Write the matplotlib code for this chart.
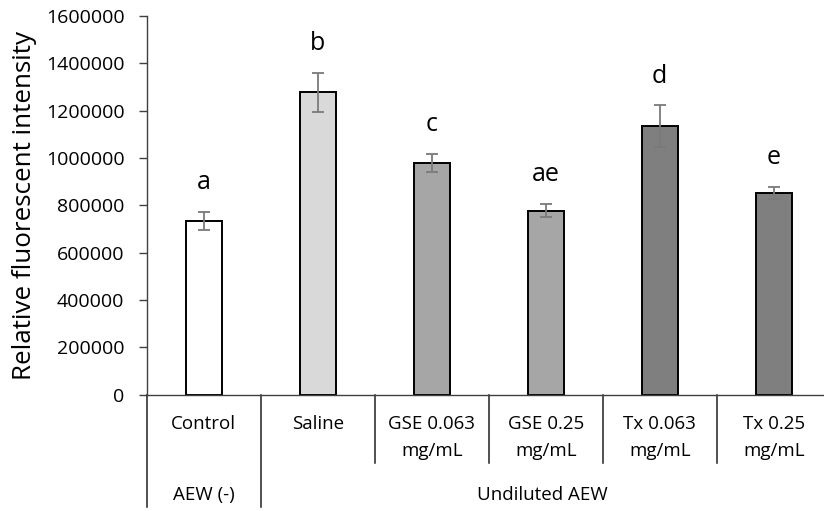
import matplotlib
matplotlib.use("Agg")
import matplotlib.pyplot as plt
from matplotlib.transforms import blended_transform_factory
from matplotlib.ticker import MultipleLocator, FuncFormatter

plt.rcParams['font.family'] = ['Open Sans', 'DejaVu Sans']

categories = ["Control", "Saline", "GSE 0.063\nmg/mL", "GSE 0.25\nmg/mL",
              "Tx 0.063\nmg/mL", "Tx 0.25\nmg/mL"]
values = [735000, 1277000, 980000, 777000, 1135000, 852000]
errors = [38000, 81000, 37000, 28000, 87000, 24000]
letters = ["a", "b", "c", "ae", "d", "e"]
colors = ["#ffffff", "#d9d9d9", "#a6a6a6", "#a6a6a6", "#7f7f7f", "#7f7f7f"]
groups = ["AEW (-)", "Undiluted AEW"]
group_spans = [(0, 0), (1, 5)]
ylabel = "Relative fluorescent intensity"

W, H = 824, 511
fig = plt.figure(figsize=(W / 100, H / 100), dpi=100)
x0, x1 = 146.7, 830.7
ytop, ybot = 16.0, 394.7
ax = fig.add_axes([x0 / W, (H - ybot) / H, (x1 - x0) / W, (ybot - ytop) / H])

xs = list(range(len(categories)))
ax.bar(xs, values, width=0.316, color=colors, edgecolor="black", linewidth=1.4, zorder=2)
ax.errorbar(xs, values, yerr=errors, fmt="none", ecolor="#7a7a7a", elinewidth=1.3,
            capsize=4.5, capthick=1.3, zorder=3)

for x, v, e, l in zip(xs, values, errors, letters):
    ax.annotate(l, xy=(x, v + e), xytext=(0, 16.5), textcoords="offset points",
                ha="center", va="baseline", fontsize=18, color="black")

ax.set_xlim(-0.5, len(categories) - 0.5)
ax.set_ylim(0, 1600000)
ax.yaxis.set_major_locator(MultipleLocator(200000))
ax.yaxis.set_major_formatter(FuncFormatter(lambda v, p: f"{int(v)}"))
ax.tick_params(axis="y", direction="out", length=6, width=1, color="#404040",
               labelsize=14, pad=10, labelcolor="black")
ax.set_xticks([])
for s in ["top", "right"]:
    ax.spines[s].set_visible(False)
ax.spines["left"].set_color("#404040")
ax.spines["bottom"].set_color("#404040")
ax.spines["left"].set_linewidth(1.0)
ax.spines["bottom"].set_linewidth(1.0)

fig.text(25 / W, (H - 205) / H, ylabel, rotation=90, ha="center", va="center", fontsize=18.7)

tr = blended_transform_factory(ax.transData, fig.transFigure)
def fy(py):
    return (H - py) / H

# separators
group_bounds = set()
for a, b in group_spans:
    group_bounds.add(a - 0.5)
    group_bounds.add(b + 0.5)
for i in range(len(categories)):
    bx = i - 0.5
    bottom = 507 if bx in group_bounds else 463
    ax.plot([bx, bx], [fy(ybot), fy(bottom)], transform=tr, color="#202020",
            lw=1.1, clip_on=False)

# category labels
for x, c in zip(xs, categories):
    lines = c.split("\n")
    for j, ln in enumerate(lines):
        ax.text(x, fy(429 + 27 * j), ln, transform=tr, ha="center", va="baseline",
                fontsize=13.5)

# group labels
for g, (a, b) in zip(groups, group_spans):
    if b == len(categories) - 1:
        cx = (a - 0.5 + (b + 0.5 - 0.06)) / 2
    else:
        cx = (a + b) / 2
    ax.text(cx, fy(500), g, transform=tr, ha="center", va="baseline", fontsize=13.5)

fig.savefig("out.png", dpi=100)
